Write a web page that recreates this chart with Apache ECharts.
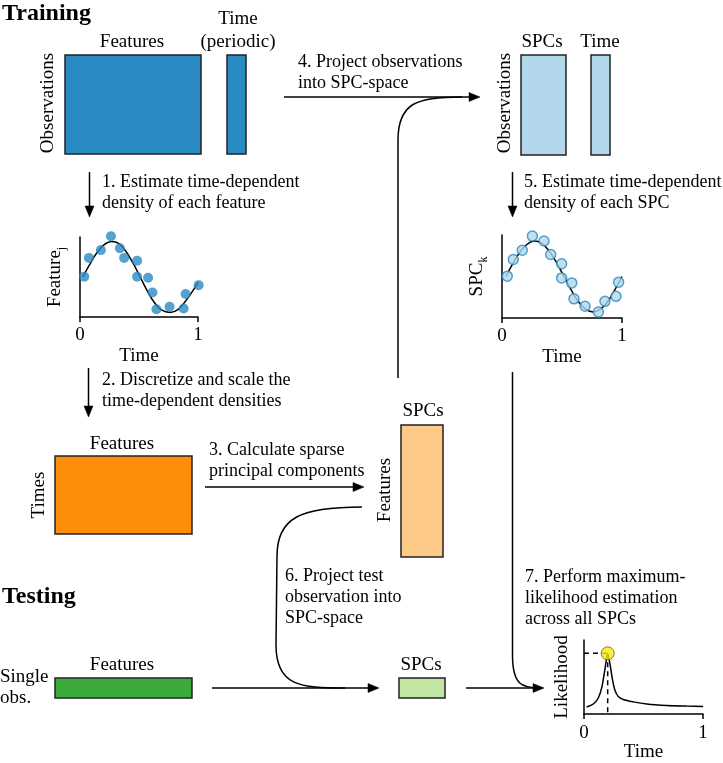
<!DOCTYPE html>
<html><head><meta charset="utf-8">
<script src="https://cdn.jsdelivr.net/npm/echarts@6/dist/echarts.min.js"></script>
<style>html,body{margin:0;padding:0;background:#fff}#c{width:723px;height:763px}</style>
</head><body><div id="c"></div>
<script>
// ---------- data ----------
const timeTicks = [0, 1];
// Feature_j panel: observed points (time, value) and fitted density curve
const featureDotT = [0.036, 0.076, 0.177, 0.262, 0.338, 0.374, 0.484, 0.484, 0.577, 0.614, 0.648, 0.759, 0.878, 0.895, 1.005];
const featureDotV = [0.01, 0.54, 0.76, 1.15, 0.81, 0.54, 0.46, 0.01, -0.02, -0.44, -0.91, -0.84, -0.89, -0.48, -0.23];
const featureCurveT = [0.025, 0.08, 0.14, 0.20, 0.27, 0.33, 0.39, 0.45, 0.51, 0.57, 0.63, 0.69, 0.765, 0.83, 0.89, 0.95, 1.0];
const featureCurveV = [0, 0.34, 0.67, 0.90, 1.0, 0.94, 0.72, 0.39, 0, -0.39, -0.72, -0.93, -1.0, -0.92, -0.70, -0.42, -0.15];
// SPC_k panel
const spcDotT = [0.044, 0.094, 0.169, 0.253, 0.350, 0.406, 0.497, 0.497, 0.581, 0.600, 0.692, 0.803, 0.858, 0.950, 0.972];
const spcDotV = [0.01, 0.48, 0.74, 1.14, 1.0, 0.62, 0.36, -0.04, -0.18, -0.63, -0.84, -1.0, -0.70, -0.56, -0.16];
const spcCurveT = [0.033, 0.09, 0.15, 0.21, 0.27, 0.33, 0.39, 0.45, 0.52, 0.58, 0.64, 0.70, 0.76, 0.82, 0.88, 0.94, 1.0];
const spcCurveV = [0, 0.36, 0.69, 0.91, 1.0, 0.94, 0.73, 0.42, -0.02, -0.40, -0.72, -0.93, -1.0, -0.92, -0.71, -0.38, 0];
// Likelihood panel
const likeT = [0.022, 0.078, 0.120, 0.149, 0.171, 0.191, 0.199, 0.218, 0.238, 0.261, 0.288, 0.330, 0.414, 0.527, 0.695, 0.863, 1.0];
const likeV = [0.096, 0.136, 0.217, 0.357, 0.558, 0.759, 0.807, 0.679, 0.478, 0.317, 0.237, 0.197, 0.165, 0.136, 0.116, 0.108, 0.104];
const likePeak = [0.199, 0.82];

// ---------- styles ----------
const FONT = '"Liberation Serif", "Times New Roman", serif';
const C = {
  blue: '#2a8ac3', lightBlue: '#b3d7ea', orange: '#fd8e0c', lightOrange: '#fdca87',
  green: '#3cab3c', lightGreen: '#c2e5a2', yellow: '#f6ea17', edge: '#222'
};
const zip = (a, b) => a.map((v, i) => [v, b[i]]);

function txt(s, x, y, opt) {
  opt = opt || {};
  const size = opt.size || 18;
  const weight = opt.bold ? 'bold ' : '';
  return {
    type: 'text', x: x, y: y, rotation: opt.rot ? Math.PI / 2 : 0, z: 10,
    style: {
      text: s, font: weight + size + 'px ' + FONT, fill: '#000',
      textAlign: opt.align || 'left', align: opt.align || 'left',
      textVerticalAlign: 'middle', verticalAlign: 'middle'
    }
  };
}
function rect(x, y, w, h, fill) {
  return { type: 'rect', shape: { x: x, y: y, width: w, height: h },
    style: { fill: fill, stroke: C.edge, lineWidth: 1.5 } };
}
function seg(x1, y1, x2, y2) {
  return { type: 'line', shape: { x1: x1, y1: y1, x2: x2, y2: y2 },
    style: { stroke: '#000', lineWidth: 1.5 } };
}
function bez(x1, y1, cx1, cy1, cx2, cy2, x2, y2) {
  return { type: 'bezierCurve', shape: { x1: x1, y1: y1, cpx1: cx1, cpy1: cy1, cpx2: cx2, cpy2: cy2, x2: x2, y2: y2 },
    style: { stroke: '#000', lineWidth: 1.5, fill: null } };
}
function head(x, y, dir) { // tip position
  const L = 11, W = 4.5;
  let pts;
  if (dir === 'right') pts = [[x, y], [x - L, y - W], [x - L, y + W]];
  else pts = [[x, y], [x - W, y - L], [x + W, y - L]];
  return { type: 'polygon', shape: { points: pts }, style: { fill: '#000', stroke: '#000', lineWidth: 0.5 } };
}
function arrow(x1, y1, x2, y2) {
  const dir = (y1 === y2) ? 'right' : 'down';
  const els = [];
  if (dir === 'right') els.push(seg(x1, y1, x2 - 8, y2));
  else els.push(seg(x1, y1, x2, y2 - 8));
  els.push(head(x2, y2, dir));
  return els;
}

const graphics = [
  // titles
  txt('Training', 2, 14, { size: 24, bold: true }),
  txt('Testing', 2, 597, { size: 24, bold: true }),
  // top-left matrices
  rect(65, 55, 136, 99, C.blue),
  rect(227, 55, 19, 99, C.blue),
  txt('Features', 132, 42, { size: 19, align: 'center' }),
  txt('Time', 238, 19, { size: 19, align: 'center' }),
  txt('(periodic)', 238, 42, { size: 19, align: 'center' }),
  txt('Observations', 48, 103, { size: 19, align: 'center', rot: true }),
  // top-right matrices
  rect(521, 55, 45, 100, C.lightBlue),
  rect(591, 55, 19, 100, C.lightBlue),
  txt('SPCs', 542, 42, { size: 19, align: 'center' }),
  txt('Time', 600, 42, { size: 19, align: 'center' }),
  txt('Observations', 505, 103, { size: 19, align: 'center', rot: true }),
  // step 4
  txt('4. Project observations', 298, 62),
  txt('into SPC-space', 298, 83),
  ...arrow(284, 97, 480, 97),
  seg(398, 378, 398, 140),
  bez(398, 140, 398, 102, 418, 97, 462, 97),
  // step 1
  ...arrow(89.5, 172, 89.5, 217),
  txt('1. Estimate time-dependent', 102, 182),
  txt('density of each feature', 102, 203),
  // step 5
  ...arrow(512.5, 172, 512.5, 217),
  txt('5. Estimate time-dependent', 524, 182),
  txt('density of each SPC', 524, 203),
  // step 2
  ...arrow(88.5, 368, 88.5, 417),
  txt('2. Discretize and scale the', 102, 380),
  txt('time-dependent densities', 102, 401),
  // orange matrices
  rect(55, 456, 137, 78, C.orange),
  txt('Features', 122, 444, { size: 19, align: 'center' }),
  txt('Times', 39, 495, { size: 19, align: 'center', rot: true }),
  rect(401, 425, 42, 132, C.lightOrange),
  txt('SPCs', 423, 411, { size: 19, align: 'center' }),
  txt('Features', 385, 490, { size: 19, align: 'center', rot: true }),
  // step 3
  txt('3. Calculate sparse', 209, 450),
  txt('principal components', 209, 471),
  ...arrow(205, 487, 364, 487),
  // step 6 curve
  bez(362, 507, 300, 507, 277, 518, 277, 556),
  seg(277, 556, 276, 645),
  bez(276, 645, 276, 686, 300, 688, 345, 688),
  txt('6. Project test', 285, 576),
  txt('observation into', 285, 597),
  txt('SPC-space', 285, 618),
  // testing row
  rect(55, 678, 137, 20, C.green),
  txt('Features', 122, 665, { size: 19, align: 'center' }),
  txt('Single', 0, 677, { size: 19 }),
  txt('obs.', 0, 698, { size: 19 }),
  ...arrow(212, 688, 379, 688),
  rect(399, 678, 46, 20, C.lightGreen),
  txt('SPCs', 421, 665, { size: 19, align: 'center' }),
  ...arrow(466, 688, 544, 688),
  // step 7 curve
  seg(512.5, 372, 512.5, 655),
  bez(512.5, 655, 512.5, 685, 522, 688, 540, 688),
  txt('7. Perform maximum-', 525, 577),
  txt('likelihood estimation', 525, 598),
  txt('across all SPCs', 525, 619)
];

const axisLine = { show: true, onZero: false, lineStyle: { color: '#000', width: 1.5 } };
function xAx(gi, nameGap) {
  return {
    type: 'value', gridIndex: gi, min: timeTicks[0], max: timeTicks[1], interval: 1,
    axisLine: axisLine, axisTick: { show: true, length: 5, lineStyle: { color: '#000', width: 1.5 } },
    axisLabel: { fontSize: 19, fontFamily: FONT, color: '#000', margin: 9 },
    splitLine: { show: false },
    name: 'Time', nameLocation: 'middle', nameGap: nameGap,
    nameTextStyle: { fontSize: 19, fontFamily: FONT, color: '#000' }
  };
}
function yAx(gi, min, max, name, rich) {
  return {
    type: 'value', gridIndex: gi, min: min, max: max,
    axisLine: axisLine, axisTick: { show: false }, axisLabel: { show: false },
    splitLine: { show: false },
    name: name, nameLocation: 'middle', nameGap: 12, nameRotate: 90,
    nameTextStyle: Object.assign({ fontSize: 19, fontFamily: FONT, color: '#000' }, rich ? { rich: rich } : {})
  };
}
const subRich = {
  m: { fontSize: 19, fontFamily: FONT, color: '#000', lineHeight: 22, verticalAlign: 'top' },
  s: { fontSize: 12, fontFamily: FONT, color: '#000', lineHeight: 12, verticalAlign: 'bottom' }
};
const curveLine = { color: '#000', width: 1.5 };

const option = {
  backgroundColor: '#fff',
  animation: false,
  grid: [
    { left: 80, top: 237, width: 118, height: 80 },
    { left: 502, top: 235, width: 120, height: 83 },
    { left: 584, top: 640, width: 119, height: 83 }
  ],
  xAxis: [xAx(0, 30), xAx(1, 30), xAx(2, 16)],
  yAxis: [
    yAx(0, -1.13, 1.13, '{m|Feature}{s|j}', subRich),
    yAx(1, -1.17, 1.17, '{m|SPC}{s|k}', subRich),
    yAx(2, 0, 1, 'Likelihood')
  ],
  series: [
    { type: 'line', xAxisIndex: 0, yAxisIndex: 0, data: zip(featureCurveT, featureCurveV), smooth: 0.4,
      showSymbol: false, lineStyle: curveLine, clip: false, z: 2 },
    { type: 'scatter', xAxisIndex: 0, yAxisIndex: 0, data: zip(featureDotT, featureDotV), symbolSize: 10,
      itemStyle: { color: C.blue }, clip: false, z: 3 },
    { type: 'line', xAxisIndex: 1, yAxisIndex: 1, data: zip(spcCurveT, spcCurveV), smooth: 0.4,
      showSymbol: false, lineStyle: curveLine, clip: false, z: 2 },
    { type: 'scatter', xAxisIndex: 1, yAxisIndex: 1, data: zip(spcDotT, spcDotV), symbolSize: 10,
      itemStyle: { color: C.lightBlue, borderColor: C.blue, borderWidth: 1.5 }, clip: false, z: 3 },
    { type: 'line', xAxisIndex: 2, yAxisIndex: 2, data: zip(likeT, likeV), smooth: 0.3,
      showSymbol: false, lineStyle: curveLine, clip: false, z: 2 },
    { type: 'line', xAxisIndex: 2, yAxisIndex: 2, data: [[0, likePeak[1]], likePeak], showSymbol: false,
      lineStyle: { color: '#000', width: 1.5, type: [5, 4] }, clip: false, z: 2 },
    { type: 'line', xAxisIndex: 2, yAxisIndex: 2, data: [likePeak, [likePeak[0], 0]], showSymbol: false,
      lineStyle: { color: '#000', width: 1.5, type: [5, 4] }, clip: false, z: 2 },
    { type: 'scatter', xAxisIndex: 2, yAxisIndex: 2, data: [likePeak], symbolSize: 13,
      itemStyle: { color: C.yellow, borderColor: '#6b6400', borderWidth: 1 }, clip: false, z: 4 }
  ],
  graphic: { elements: graphics }
};
const chart = echarts.init(document.getElementById('c'), null, { renderer: 'canvas' });
chart.setOption(option);
</script></body></html>
